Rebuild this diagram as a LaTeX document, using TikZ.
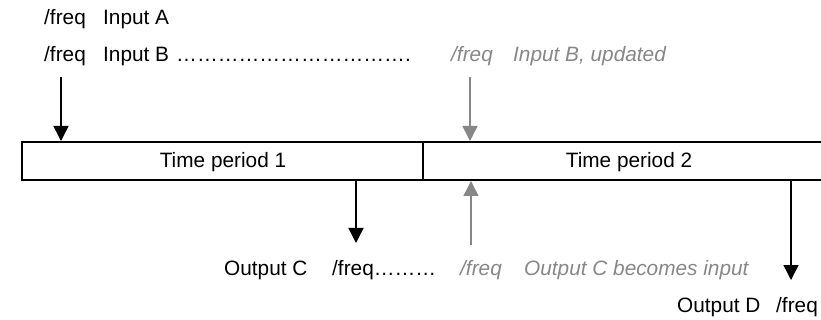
\documentclass[tikz,border=0pt]{standalone}
\usepackage{fontspec}
\setmainfont{Liberation Sans}
\usetikzlibrary{arrows.meta}
\definecolor{lgray}{RGB}{135,135,135}
\begin{document}
\begin{tikzpicture}[x=1pt,y=-1pt,
  txt/.style={anchor=base west,inner sep=0pt,font=\fontsize{20.8}{24}\selectfont},
  gtxt/.style={txt,text=lgray,font=\fontsize{20.8}{24}\selectfont\itshape},
  ctxt/.style={anchor=base,inner sep=0pt,font=\fontsize{20.8}{24}\selectfont},
  periodbox/.style={draw,line width=2pt,minimum height=38pt,inner sep=0pt},
  arr/.style={line width=1.5pt,-{Triangle[width=15pt,length=15pt]}},
  garr/.style={arr,draw=lgray,fill=lgray}]
\useasboundingbox (0,0) rectangle (821,320);
\clip (0,0) rectangle (821,320);
% boxes
\node[periodbox,minimum width=401pt] (tp1) at (222.5,161) {};
\node[periodbox,minimum width=412pt] (tp2) at (629,161) {};
\node[ctxt] (tp1t) at (223,168) {Time period 1};
\node[ctxt] (tp2t) at (629,168) {Time period 2};
% top texts
\node[txt] (fa) at (44,25) {/freq};
\node[txt] (ia) at (103,25) {Input A};
\node[txt] (fb) at (44,62) {/freq};
\node[txt] (ib) at (103,62) {Input B};
\node[txt] (db) at (176,62) {…………………………….};
\node[gtxt] (gfb) at (451,62) {/freq};
\node[gtxt] (gib) at (513,62) {Input B, updated};
% bottom texts
\node[txt] (oc) at (224,275) {Output C};
\node[txt] (fc) at (332,275) {/freq………};
\node[gtxt] (gfc) at (460,275) {/freq};
\node[gtxt] (goc) at (524,275) {Output C becomes input};
\node[txt] (od) at (677,312) {Output D};
\node[txt] (fd) at (776,312) {/freq};
% arrow ends
\coordinate (sa) at (61,77);
\coordinate (sg) at (470,77);
\coordinate (ec) at (356,243);
\coordinate (su) at (471,245);
\coordinate (ed) at (791,280);
\draw[arr] (sa) -- (sa |- tp1.north);
\draw[garr] (sg) -- (sg |- tp2.north);
\draw[arr] (ec |- tp1.south) -- (ec);
\draw[garr] (su) -- (su |- tp2.south);
\draw[arr] ([yshift=2pt]ed |- tp2.south) -- (ed);
\end{tikzpicture}
\end{document}
